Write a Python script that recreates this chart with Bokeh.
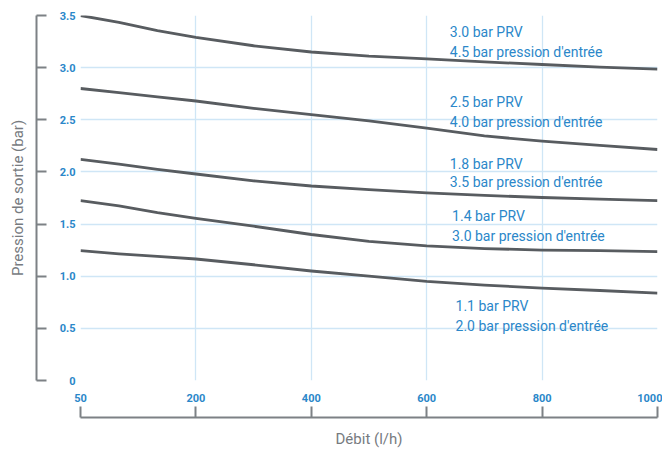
import numpy as np
from bokeh.plotting import figure
from bokeh.models import LinearAxis, FixedTicker, Range1d, ColumnDataSource, CustomLabelingPolicy
from bokeh.core.properties import value
from bokeh.embed import file_html
from bokeh.resources import INLINE

# ---- data ----
flow_ticks = [50, 200, 400, 600, 800, 1000]
flow_tick_labels = ["50", "200", "400", "600", "800", "1000"]
pressure_ticks = [0, 0.5, 1.0, 1.5, 2.0, 2.5, 3.0, 3.5]
pressure_tick_labels = ["0", "0.5", "1.0", "1.5", "2.0", "2.5", "3.0", "3.5"]

flow = [50, 100, 150, 200, 300, 400, 500, 600, 700, 800, 900, 1000]
prv_30 = [3.50, 3.435, 3.355, 3.29, 3.21, 3.15, 3.11, 3.085, 3.055, 3.03, 3.005, 2.985]
prv_25 = [2.80, 2.76, 2.72, 2.68, 2.61, 2.55, 2.49, 2.42, 2.345, 2.295, 2.255, 2.215]
prv_18 = [2.12, 2.075, 2.025, 1.98, 1.915, 1.865, 1.83, 1.80, 1.775, 1.755, 1.74, 1.725]
prv_14 = [1.725, 1.675, 1.61, 1.555, 1.48, 1.40, 1.335, 1.29, 1.265, 1.25, 1.245, 1.235]
prv_11 = [1.245, 1.215, 1.19, 1.165, 1.11, 1.05, 1.00, 0.95, 0.915, 0.886, 0.863, 0.838]
series = [prv_30, prv_25, prv_18, prv_14, prv_11]

label_prv = ["3.0 bar PRV", "2.5 bar PRV", "1.8 bar PRV", "1.4 bar PRV", "1.1 bar PRV"]
label_inlet = ["4.5 bar pression d'entrée", "4.0 bar pression d'entrée",
               "3.5 bar pression d'entrée", "3.0 bar pression d'entrée",
               "2.0 bar pression d'entrée"]
# annotation anchor positions (flow, pressure)
label_flow = [640, 640, 640, 644, 650]
label_y_prv = [3.34, 2.67, 2.08, 1.58, 0.71]
label_y_inlet = [3.15, 2.48, 1.90, 1.39, 0.52]

# ---- styles ----
FONT = "Roboto"
BLUE = "#2b87c9"
GRID = "#cfe6f6"
AXIS = "#7d8185"
CURVE = "#585c60"
TITLE = "#777b7f"

idx = list(range(len(flow_ticks)))


def to_pos(f):
    return np.interp(f, flow_ticks, idx)


p = figure(width=662, height=450,
           x_range=Range1d(0, len(flow_ticks) - 1), y_range=Range1d(0, 3.5),
           x_axis_location=None, y_axis_location=None,
           output_backend="svg", toolbar_location=None,
           min_border_left=80, min_border_right=5, min_border_top=15, min_border_bottom=69)
p.outline_line_color = None
p.background_fill_color = "white"
p.border_fill_color = "white"

p.xgrid.ticker = FixedTicker(ticks=idx)
p.ygrid.ticker = FixedTicker(ticks=pressure_ticks)
for g in (p.xgrid, p.ygrid):
    g.grid_line_color = GRID
    g.grid_line_width = 1.3

no_labels = CustomLabelingPolicy(code="return []")

# y axis: labels next to frame
ylab = LinearAxis(ticker=FixedTicker(ticks=pressure_ticks),
                  major_label_overrides={t: l for t, l in zip(pressure_ticks, pressure_tick_labels)},
                  axis_line_color=None, major_tick_line_color=None, minor_tick_line_color=None,
                  major_tick_in=0, major_tick_out=0, major_label_standoff=5,
                  major_label_text_font=FONT, major_label_text_font_style="bold",
                  major_label_text_font_size="11px", major_label_text_color=BLUE,
                  axis_label=" ", axis_label_standoff=1, axis_label_text_font_size="14px")
p.add_layout(ylab, "left")
# y axis: line + ticks + title
yline = LinearAxis(ticker=FixedTicker(ticks=pressure_ticks),
                   axis_line_color=AXIS, axis_line_width=2,
                   major_tick_line_color=AXIS, major_tick_line_width=2,
                   minor_tick_line_color=None,
                   major_tick_in=10, major_tick_out=0, major_label_standoff=0,
                   major_label_text_font_size="0px", major_label_policy=no_labels,
                   axis_label="Pression de sortie (bar)", axis_label_standoff=10,
                   axis_label_text_font=FONT, axis_label_text_font_style="normal",
                   axis_label_text_font_size="15px", axis_label_text_color=TITLE)
p.add_layout(yline, "left")

# x axis: labels next to frame
xlab = LinearAxis(ticker=FixedTicker(ticks=idx),
                  major_label_overrides={i: l for i, l in zip(idx, flow_tick_labels)},
                  axis_line_color=None, major_tick_line_color=None, minor_tick_line_color=None,
                  major_tick_in=0, major_tick_out=0, major_label_standoff=13,
                  major_label_text_font=FONT, major_label_text_font_style="bold",
                  major_label_text_font_size="11px", major_label_text_color=BLUE,
                  axis_label=" ", axis_label_standoff=0, axis_label_text_font_size="8.5px")
p.add_layout(xlab, "below")
xline = LinearAxis(ticker=FixedTicker(ticks=idx),
                   axis_line_color=AXIS, axis_line_width=2,
                   major_tick_line_color=AXIS, major_tick_line_width=2,
                   minor_tick_line_color=None,
                   major_tick_in=11, major_tick_out=0, major_label_standoff=0,
                   major_label_text_font_size="0px", major_label_policy=no_labels,
                   axis_label="Débit (l/h)", axis_label_standoff=12,
                   axis_label_text_font=FONT, axis_label_text_font_style="normal",
                   axis_label_text_font_size="15px", axis_label_text_color=TITLE,
                   axis_label_text_line_height=1.0)
p.add_layout(xline, "below")

# curves
x_pos = to_pos(flow)
for ys in series:
    p.line(x=x_pos, y=ys, line_color=CURVE, line_width=2.8, line_join="round")

# annotations
src = ColumnDataSource(dict(
    x=list(to_pos(label_flow)) * 2,
    y=label_y_prv + label_y_inlet,
    t=label_prv + label_inlet,
))
p.text(x="x", y="y", text="t", source=src, text_font=value(FONT),
       text_font_size="14px", text_color=BLUE, text_align="left", text_baseline="middle")

open("out.html", "w").write(file_html(p, INLINE))
